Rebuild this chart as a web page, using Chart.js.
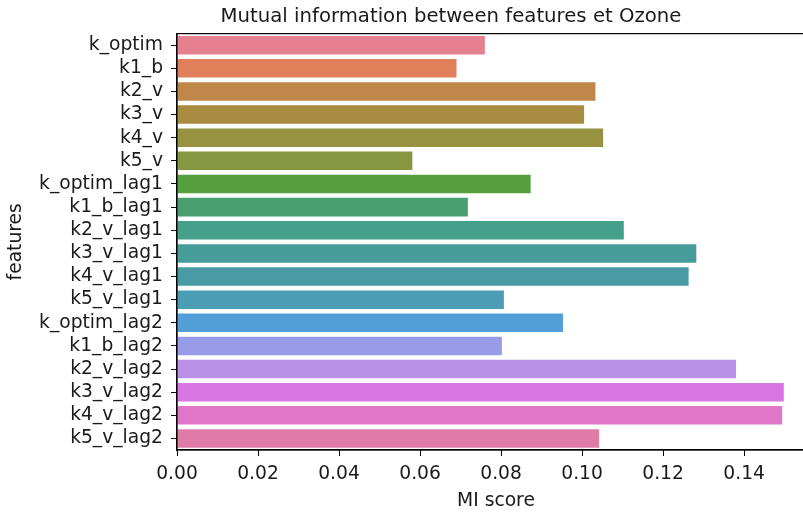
<!DOCTYPE html>
<html>
<head>
<meta charset="utf-8">
<script src="https://cdn.jsdelivr.net/npm/chart.js@4"></script>
<style>
  body { margin: 0; overflow: hidden; background: #fff; }
</style>
</head>
<body>
<canvas id="mi-chart" width="902" height="514"></canvas>
<script>
// features and their mutual information score with Ozone
const features = [
  "k_optim", "k1_b", "k2_v", "k3_v", "k4_v", "k5_v",
  "k_optim_lag1", "k1_b_lag1", "k2_v_lag1", "k3_v_lag1", "k4_v_lag1", "k5_v_lag1",
  "k_optim_lag2", "k1_b_lag2", "k2_v_lag2", "k3_v_lag2", "k4_v_lag2", "k5_v_lag2"
];
const miScores = [
  0.0760, 0.0690, 0.1033, 0.1005, 0.1052, 0.0581,
  0.0873, 0.0718, 0.1103, 0.1282, 0.1263, 0.0807,
  0.0953, 0.0802, 0.1380, 0.1498, 0.1494, 0.1042
];
const barColors = [
  "#e5808f", "#e0805a", "#c08848", "#a88c42", "#969240", "#859840",
  "#57a040", "#48a070", "#45a08a", "#469c98", "#489ba5", "#4b9db5",
  "#529fd8", "#989ce8", "#b990e5", "#d876e3", "#e076c8", "#e07ba8"
];

const textColor = "#1a1a1a";
const tickFont = { family: "DejaVu Sans", size: 18.7 };

// matplotlib style box round the axes, and title centred like the original
const frame = {
  id: "frame",
  afterLayout(chart) {
    // the original title sits centred over the full (uncropped) figure
    const shift = 451 - (chart.titleBlock.left + chart.titleBlock.right) / 2;
    chart.titleBlock.left += shift;
    chart.titleBlock.right += shift;
  },
  afterDatasetsDraw(chart) {
    const { ctx, chartArea } = chart;
    ctx.save();
    ctx.strokeStyle = "#000";
    ctx.lineWidth = 1.2;
    ctx.strokeRect(chartArea.left, chartArea.top,
      chartArea.right - chartArea.left, chartArea.bottom - chartArea.top);
    ctx.restore();
  },
};

new Chart(document.querySelector("#mi-chart").getContext("2d"), {
  type: "bar",
  data: {
    labels: features,
    datasets: [
      {
        label: "MI score",
        data: miScores,
        backgroundColor: barColors,
        borderWidth: 0,
        barPercentage: 0.8,
        categoryPercentage: 1.0,
      },
    ],
  },
  options: {
    indexAxis: "y",
    responsive: false,
    animation: false,
    devicePixelRatio: 1,
    layout: { padding: { left: 0, top: 0, bottom: 0, right: 87 } },
    plugins: {
      legend: { display: false },
      tooltip: { enabled: false },
      title: {
        display: true,
        text: "Mutual information between features et Ozone",
        color: textColor,
        font: { family: "DejaVu Sans", size: 19.7, weight: "normal", lineHeight: 1.2 },
        padding: { top: 5, bottom: 5 },
      },
    },
    scales: {
      x: {
        min: 0,
        max: 0.1575,
        afterFit: (scale) => { scale.height = 64; },
        ticks: {
          stepSize: 0.02,
          includeBounds: false,
          padding: 7,
          color: textColor,
          font: tickFont,
          callback: (v) => v.toFixed(2),
        },
        grid: {
          drawOnChartArea: false,
          drawTicks: true,
          tickLength: 6,
          color: "#000",
        },
        border: { display: true, color: "#000", width: 1.2 },
        title: {
          display: true,
          text: "MI score",
          color: textColor,
          font: { family: "DejaVu Sans", size: 18.7, lineHeight: 1.2 },
          padding: { top: 0, bottom: 2 },
        },
      },
      y: {
        afterFit: (scale) => { scale.width = 177; },
        ticks: {
          padding: 8,
          color: textColor,
          font: tickFont,
          autoSkip: false,
        },
        grid: {
          offset: false,
          drawOnChartArea: false,
          drawTicks: true,
          tickLength: 6,
          color: "#000",
        },
        border: { display: true, color: "#000", width: 1.2 },
        title: {
          display: true,
          text: "features",
          color: textColor,
          font: { family: "DejaVu Sans", size: 18.7, lineHeight: 1.2 },
          padding: { top: 5, bottom: 0 },
        },
      },
    },
  },
  plugins: [frame],
});
</script>
</body>
</html>
